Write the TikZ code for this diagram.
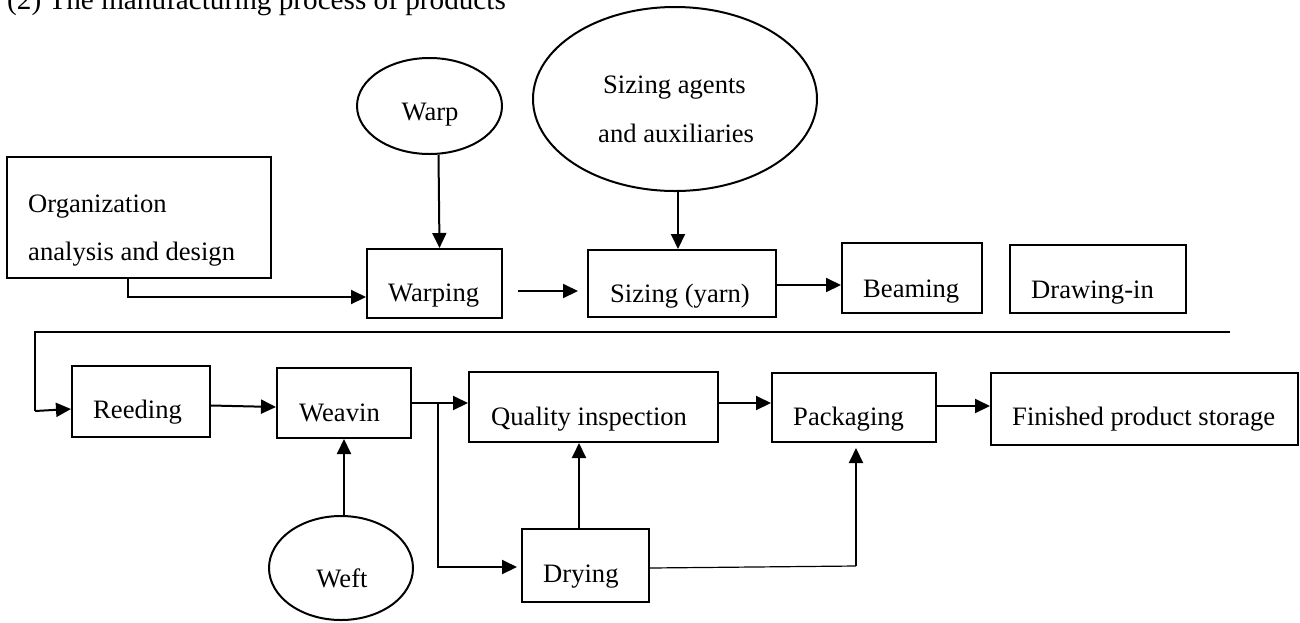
\documentclass[tikz,border=0pt]{standalone}
\usepackage{fontspec}
\setmainfont{Liberation Serif}
\usetikzlibrary{arrows.meta,shapes.geometric,calc}
\tikzset{
  box/.style={draw, line width=2pt, rectangle, inner sep=0pt},
  ell/.style={draw, line width=2pt, ellipse, inner sep=0pt},
  txt/.style={inner sep=0pt, anchor=base west, font=\fontsize{26.6}{32}\selectfont},
  ctxt/.style={inner sep=0pt, anchor=base, font=\fontsize{26.6}{32}\selectfont},
  arr/.style={line width=2pt, -{Triangle[length=15pt,width=14pt]}},
  thinline/.style={line width=1.2pt},
}
\begin{document}
\begin{tikzpicture}[x=1pt,y=-1pt]
\useasboundingbox (0,0) rectangle (1300,622);
% title
\node[inner sep=0pt, anchor=base west, font=\fontsize{29.2}{34}\selectfont] (title) at (7,9) {(2) The manufacturing process of products};
% boxes
\node[box, minimum width=264pt, minimum height=121pt] (org) at (139,217.5) {};
\node[box, minimum width=135pt, minimum height=69pt] (warping) at (434.5,283.5) {};
\node[box, minimum width=188pt, minimum height=67pt] (sizing) at (682,283.5) {};
\node[box, minimum width=140pt, minimum height=70pt] (beaming) at (912,278) {};
\node[box, minimum width=176pt, minimum height=68pt] (drawing) at (1098,279) {};
\node[box, minimum width=138pt, minimum height=71pt] (reeding) at (141,401.5) {};
\node[box, minimum width=134pt, minimum height=70pt] (weavin) at (344,403) {};
\node[box, minimum width=249pt, minimum height=70pt] (quality) at (593.5,407) {};
\node[box, minimum width=164pt, minimum height=69pt] (packaging) at (854,407.5) {};
\node[box, minimum width=307pt, minimum height=72pt] (finished) at (1144.5,409) {};
\node[box, minimum width=127pt, minimum height=73pt] (drying) at (585.5,565.5) {};
% ellipses
\node[ell, minimum width=145pt, minimum height=96pt] (warp) at (429.5,106) {};
\node[ell, minimum width=284pt, minimum height=184pt] (agents) at (675,99) {};
\node[ell, minimum width=144pt, minimum height=104pt] (weft) at (341,568) {};
% texts
\node[txt] (torg1) at (28,212) {Organization};
\node[txt] (torg2) at (28,260) {analysis and design};
\node[ctxt] (twarp) at (430,120) {Warp};
\node[txt] (tag1) at (603,93) {Sizing agents};
\node[txt] (tag2) at (598,142) {and auxiliaries};
\node[txt] (twarping) at (388,301) {Warping};
\node[txt] (tsizing) at (610,302) {Sizing (yarn)};
\node[txt] (tbeaming) at (863,297) {Beaming};
\node[txt] (tdrawing) at (1031,298) {Drawing-in};
\node[txt] (treeding) at (93,418) {Reeding};
\node[txt] (tweavin) at (299,421) {Weavin};
\node[txt] (tquality) at (491,425) {Quality inspection};
\node[txt] (tpack) at (793,425) {Packaging};
\node[txt] (tfin) at (1012,425) {Finished product storage};
\node[txt] (tdry) at (543,582) {Drying};
\node[ctxt] (tweft) at (342,587) {Weft};
% connectors
\draw[arr] ([xshift=-11pt]org.south) |- ($(warping.west)+(0,13.5)$);
\draw[arr] ([xshift=9pt]warp.south) -- ([xshift=5pt]warping.north);
\draw[arr] ($(warping.east)+(15,7.5)$) -- ($(sizing.west)+(-9,7.5)$);
\draw[arr] ([xshift=3pt]agents.south) -- ([xshift=-4pt]sizing.north);
\draw[arr] ($(sizing.east)+(0,1.5)$) -- ($(beaming.west)+(0,7)$);
\coordinate (r0) at (1230,332);
\coordinate (r1) at (35,332);
\coordinate (r2) at (35,411);
\draw[thinline] (r0) -- (r1) -- (r2);
\draw[arr] (r2) -- ($(reeding.west)+(0,7.5)$);
\draw[arr] ($(reeding.east)+(0,4)$) -- ($(weavin.west)+(0,4)$);
\draw[arr] (weavin.east) -- ($(quality.west)+(0,-4)$);
\coordinate (j) at ($(weavin.east)+(26,0)$);
\draw[arr] (j) |- ($(drying.west)+(-4,1.5)$);
\draw[arr] ([xshift=3pt]weft.north) -- (weavin.south);
\draw[arr] ([xshift=-6.5pt]drying.north) -- ([xshift=-14.5pt]quality.south);
\draw[arr] ($(quality.east)+(0,-4)$) -- ($(packaging.west)+(0,-4.5)$);
\draw[arr] ($(packaging.east)+(0,-1.5)$) -- ($(finished.west)+(0,-3)$);
\coordinate (dp) at (856,566);
\draw[thinline] ($(drying.east)+(0,2.5)$) -- (dp);
\draw[arr] (dp) -- ($(packaging.south)+(2,5)$);
\end{tikzpicture}
\end{document}
